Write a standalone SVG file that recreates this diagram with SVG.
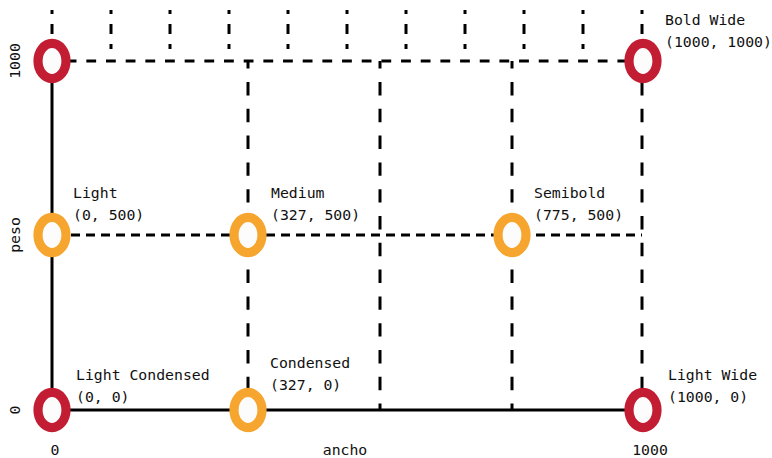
<svg xmlns="http://www.w3.org/2000/svg" width="772" height="458" viewBox="0 0 772 458">
<style>
text{font-family:"DejaVu Sans Mono","Liberation Mono",monospace;font-size:14.8px;fill:#111}
.ax{text-anchor:middle}
.solid{stroke:#000;stroke-width:3;fill:none}
.tick{stroke:#000;stroke-width:3;stroke-dasharray:10 10;stroke-dashoffset:6}
.hTop{stroke:#000;stroke-width:3;stroke-dasharray:9.8 9.87;stroke-dashoffset:5}
.hMid{stroke:#000;stroke-width:3;stroke-dasharray:9 6;stroke-dashoffset:11}
.vDash{stroke:#000;stroke-width:3;stroke-dasharray:13.4 13.4;stroke-dashoffset:5.8}
.red{fill:#fcfcfc;stroke:#c21d32;stroke-width:9.2}
.org{fill:#fcfcfc;stroke:#f6a52f;stroke-width:9.2}
</style>
<rect width="772" height="458" fill="#ffffff"/>
<g id="connectors">
  <line class="tick" x1="52" y1="10" x2="52" y2="49"/>
  <line class="tick" x1="111" y1="10" x2="111" y2="49"/>
  <line class="tick" x1="170" y1="10" x2="170" y2="49"/>
  <line class="tick" x1="229" y1="10" x2="229" y2="49"/>
  <line class="tick" x1="288" y1="10" x2="288" y2="49"/>
  <line class="tick" x1="347" y1="10" x2="347" y2="49"/>
  <line class="tick" x1="406" y1="10" x2="406" y2="49"/>
  <line class="tick" x1="465" y1="10" x2="465" y2="49"/>
  <line class="tick" x1="524" y1="10" x2="524" y2="49"/>
  <line class="tick" x1="583" y1="10" x2="583" y2="49"/>
  <line class="tick" x1="642" y1="10" x2="642" y2="49"/>
  <line class="hTop" x1="52" y1="61" x2="642" y2="61"/>
  <line class="hMid" x1="52" y1="235" x2="642" y2="235"/>
  <line class="vDash" x1="248" y1="61" x2="248" y2="410"/>
  <line class="vDash" x1="380" y1="61" x2="380" y2="410"/>
  <line class="vDash" x1="512" y1="61" x2="512" y2="410"/>
  <line class="vDash" x1="642" y1="61" x2="642" y2="410"/>
  <line class="solid" x1="52" y1="61" x2="52" y2="410"/>
  <line class="solid" x1="52" y1="410" x2="642" y2="410"/>
</g>
<g id="axes">
  <text class="ax" x="55" y="455">0</text>
  <text class="ax" x="345" y="455">ancho</text>
  <text class="ax" x="650" y="455">1000</text>
  <text class="ax" transform="translate(20,61) rotate(-90)">1000</text>
  <text class="ax" transform="translate(20,235) rotate(-90)">peso</text>
  <text class="ax" transform="translate(20,410) rotate(-90)">0</text>
</g>
<g id="node-bold-condensed">
  <ellipse class="red" cx="52" cy="61" rx="14" ry="17.6"/>
</g>
<g id="node-bold-wide">
  <ellipse class="red" cx="643" cy="61" rx="14" ry="17.6"/>
  <text x="665" y="25">Bold Wide</text>
  <text x="665" y="47">(1000, 1000)</text>
</g>
<g id="node-light">
  <ellipse class="org" cx="52" cy="235" rx="14" ry="17.6"/>
  <text x="73" y="198">Light</text>
  <text x="73" y="220">(0, 500)</text>
</g>
<g id="node-medium">
  <ellipse class="org" cx="248" cy="235" rx="14" ry="17.6"/>
  <text x="271" y="198">Medium</text>
  <text x="271" y="220">(327, 500)</text>
</g>
<g id="node-semibold">
  <ellipse class="org" cx="512" cy="235" rx="14" ry="17.6"/>
  <text x="534" y="198">Semibold</text>
  <text x="534" y="220">(775, 500)</text>
</g>
<g id="node-light-condensed">
  <ellipse class="red" cx="52" cy="410" rx="14" ry="17.6"/>
  <text x="76" y="380">Light Condensed</text>
  <text x="76" y="402">(0, 0)</text>
</g>
<g id="node-condensed">
  <ellipse class="org" cx="248" cy="410" rx="14" ry="17.6"/>
  <text x="270" y="368">Condensed</text>
  <text x="270" y="390">(327, 0)</text>
</g>
<g id="node-light-wide">
  <ellipse class="red" cx="643" cy="410" rx="14" ry="17.6"/>
  <text x="668" y="380">Light Wide</text>
  <text x="668" y="402">(1000, 0)</text>
</g>
</svg>
